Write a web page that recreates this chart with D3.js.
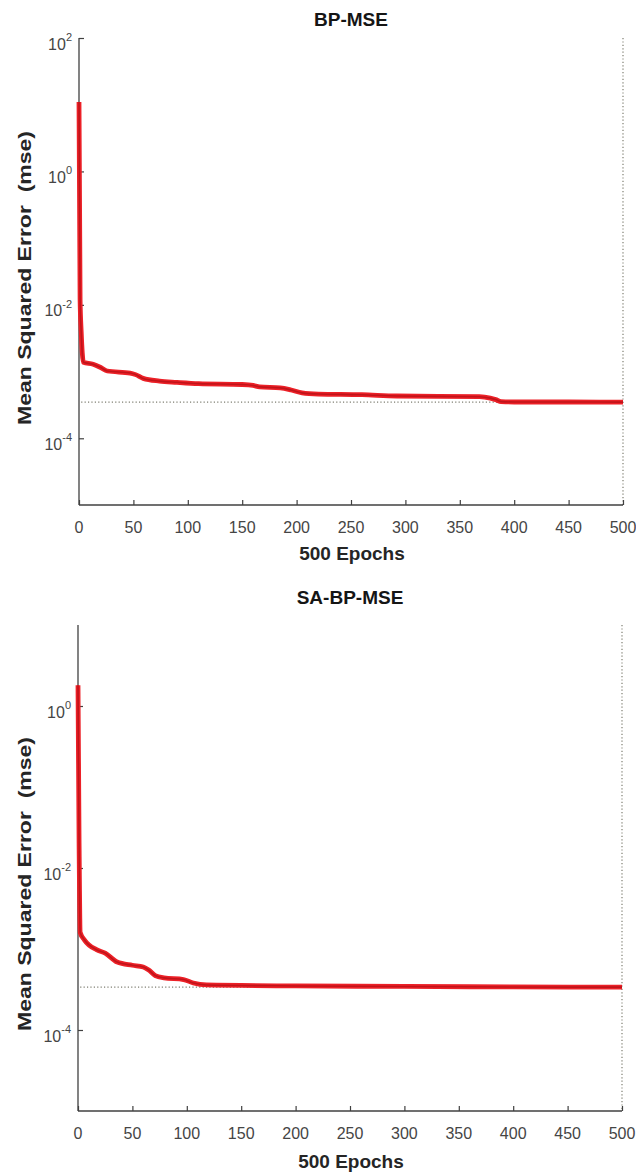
<!DOCTYPE html>
<html>
<head>
<meta charset="utf-8">
<script src="https://cdn.jsdelivr.net/npm/d3@7"></script>
<style>
  html, body { margin: 0; padding: 0; background: #fff; }
  svg { display: block; font-family: "Liberation Sans", Arial, sans-serif; }
</style>
</head>
<body>
<svg id="chart" width="636" height="1176"></svg>
<script>
// Training performance of the plain BP network
const bpEpochs = [0, 1, 2, 3, 4, 13, 20, 26, 47, 52, 59, 74, 90, 110, 150, 160, 166, 185, 195, 205, 220, 260, 292, 330, 368, 378, 383, 388, 400, 450, 500];
const bpMse = [11, 0.012, 0.004, 0.0019, 1.38e-3, 1.29e-3, 1.15e-3, 1.02e-3, 9.5e-4, 9.0e-4, 7.9e-4, 7.2e-4, 6.9e-4, 6.6e-4, 6.4e-4, 6.2e-4, 5.9e-4, 5.7e-4, 5.3e-4, 4.8e-4, 4.6e-4, 4.5e-4, 4.3e-4, 4.25e-4, 4.2e-4, 4.0e-4, 3.8e-4, 3.55e-4, 3.5e-4, 3.5e-4, 3.48e-4];
const bpBest = 3.48e-4;

// Training performance of the simulated-annealing BP network
const saEpochs = [0, 1, 2, 6, 17, 25, 36, 50, 60, 65, 71, 79, 97, 106, 118, 200, 300, 400, 500];
const saMse = [1.8, 0.02, 1.6e-3, 1.29e-3, 9.8e-4, 8.9e-4, 6.9e-4, 6.3e-4, 6.0e-4, 5.5e-4, 4.7e-4, 4.4e-4, 4.2e-4, 3.8e-4, 3.6e-4, 3.5e-4, 3.45e-4, 3.4e-4, 3.38e-4];
const saBest = 3.39e-4;

const xTicks = [0, 50, 100, 150, 200, 250, 300, 350, 400, 450, 500];
const bpYTicks = [1e2, 1e0, 1e-2, 1e-4];
const saYTicks = [1e0, 1e-2, 1e-4];

const titles = ["BP-MSE", "SA-BP-MSE"];
const xLabel = "500 Epochs";
const yLabel = "Mean Squared Error  (mse)";

const svg = d3.select("#chart");

function panel(cfg) {
  const g = svg.append("g");
  const x = d3.scaleLinear().domain([0, 500]).range([cfg.left, cfg.right]);
  const y = d3.scaleLog().domain(cfg.yDomain).range([cfg.bottom, cfg.top]);

  // dotted best-performance line and final-epoch marker
  g.append("line")
    .attr("x1", x(2)).attr("x2", x(500))
    .attr("y1", y(cfg.best)).attr("y2", y(cfg.best))
    .attr("stroke", "#7d7d70").attr("stroke-width", 1.2)
    .attr("stroke-dasharray", "1.2 2.2");
  g.append("line")
    .attr("x1", x(500)).attr("x2", x(500))
    .attr("y1", cfg.top).attr("y2", cfg.bottom)
    .attr("stroke", "#7d7d70").attr("stroke-width", 1.2)
    .attr("stroke-dasharray", "1.2 2.2");

  // axes (ticks point inward)
  const xAxis = d3.axisBottom(x).tickValues(xTicks).tickSize(-5).tickFormat("");
  g.append("g").attr("transform", `translate(0,${cfg.bottom})`).call(xAxis)
    .call(s => s.select(".domain").attr("stroke", "#404040").attr("stroke-width", 1.3).attr("d", `M${cfg.left},0H${cfg.right}`))
    .call(s => s.selectAll(".tick line").attr("stroke", "#404040").attr("stroke-width", 1.2));
  const yAxis = d3.axisLeft(y).tickValues(cfg.yTicks).tickSize(-5).tickFormat("");
  g.append("g").attr("transform", `translate(${cfg.left},0)`).call(yAxis)
    .call(s => s.select(".domain").attr("stroke", "#404040").attr("stroke-width", 1.3).attr("d", `M0,${cfg.top}V${cfg.bottom}`))
    .call(s => s.selectAll(".tick line").attr("stroke", "#404040").attr("stroke-width", 1.2));

  // x tick labels
  g.selectAll(".xt").data(xTicks).join("text")
    .attr("x", d => x(d)).attr("y", cfg.bottom + 28)
    .attr("text-anchor", "middle").attr("font-size", 16).attr("fill", "#454545")
    .text(d => d);

  // y tick labels as powers of ten
  cfg.yTicks.forEach(v => {
    const p = Math.round(Math.log10(v));
    const t = g.append("text")
      .attr("x", cfg.left - 7).attr("y", y(v) + 11.5)
      .attr("text-anchor", "end").attr("font-size", 16).attr("fill", "#454545");
    t.append("tspan").text("10");
    t.append("tspan").attr("font-size", 11).attr("dy", -8.5).text(String(p));
  });

  // loss curve
  const line = d3.line()
    .x(d => x(d[0])).y(d => y(d[1]))
    .curve(d3.curveMonotoneX);
  const pts = cfg.epochs.map((e, i) => [e, cfg.mse[i]]);
  g.append("path").attr("d", line(pts))
    .attr("fill", "none").attr("stroke", "#ec2027").attr("stroke-width", 4.8)
    .attr("stroke-linejoin", "round");
  g.append("path").attr("d", line(pts))
    .attr("fill", "none").attr("stroke", "#c0141a").attr("stroke-width", 1.6)
    .attr("stroke-linejoin", "round");

  // title and labels
  g.append("text").attr("x", (cfg.left + cfg.right) / 2).attr("y", cfg.titleY)
    .attr("text-anchor", "middle").attr("font-size", 19).attr("font-weight", "bold")
    .attr("fill", "#151515").text(cfg.title);
  g.append("text").attr("x", (cfg.left + cfg.right) / 2 + 1).attr("y", cfg.xLabelY)
    .attr("text-anchor", "middle").attr("font-size", 19).attr("font-weight", "bold")
    .attr("fill", "#252525").text(xLabel);
  g.append("text")
    .attr("transform", `translate(31,${cfg.yLabelY}) rotate(-90)`)
    .attr("text-anchor", "middle").attr("font-size", 19).attr("font-weight", "bold")
    .attr("fill", "#252525").style("white-space", "pre")
    .attr("textLength", 294).attr("lengthAdjust", "spacingAndGlyphs")
    .text(yLabel);
}

panel({
  title: titles[0], epochs: bpEpochs, mse: bpMse, best: bpBest,
  yDomain: [1e-5, 1e2], yTicks: bpYTicks,
  left: 79, right: 623, top: 38, bottom: 505,
  titleY: 26, xLabelY: 560, yLabelY: 278
});
panel({
  title: titles[1], epochs: saEpochs, mse: saMse, best: saBest,
  yDomain: [1e-5, 1e1], yTicks: saYTicks,
  left: 78, right: 622, top: 625, bottom: 1111,
  titleY: 604, xLabelY: 1168, yLabelY: 884
});
</script>
</body>
</html>
